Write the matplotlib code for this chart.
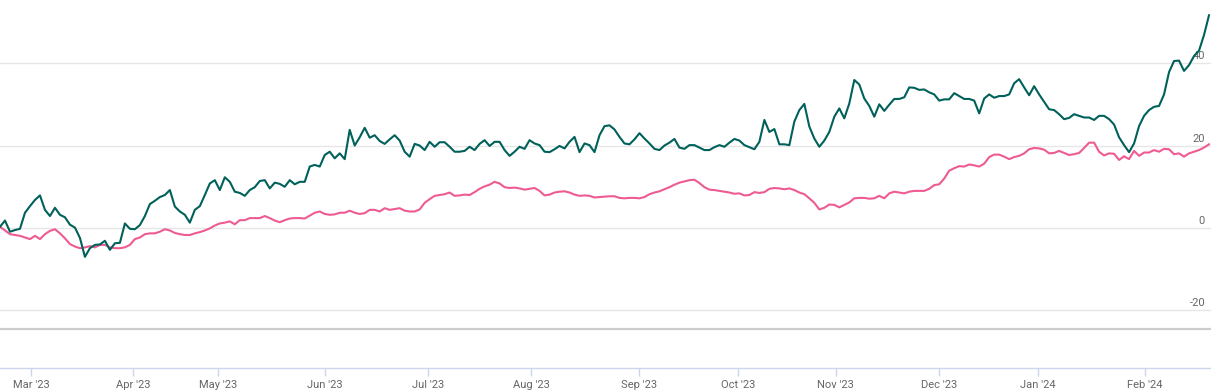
import numpy as np
import matplotlib.pyplot as plt

# cumulative performance, % (one value per trading day)
series_a = [
    0.3, 1.8, -0.9, -0.5, -0.2, 3.7, 5.3, 6.8, 7.9, 4.4,
    2.9, 4.9, 3.2, 2.6, 0.8, 0.1, -2.4, -7.0, -4.9, -4.1,
    -4.0, -3.1, -5.3, -3.7, -3.6, 1.1, -0.2, -0.3, 0.7, 2.9,
    5.8, 6.6, 7.5, 8.0, 9.2, 5.2, 4.0, 3.2, 1.3, 4.4,
    5.3, 8.0, 10.8, 11.6, 9.2, 12.3, 11.2, 8.8, 8.5, 7.8,
    9.2, 9.9, 11.4, 11.6, 9.6, 11.0, 10.7, 10.0, 11.6, 10.6,
    11.2, 11.2, 14.9, 15.3, 14.9, 17.7, 18.5, 16.9, 18.1, 16.7,
    23.8, 20.0, 22.0, 24.3, 21.9, 22.5, 21.1, 20.4, 21.5, 22.5,
    21.2, 18.5, 17.3, 20.4, 20.0, 18.9, 20.9, 19.7, 20.8, 20.8,
    19.7, 18.5, 18.5, 18.7, 19.7, 18.9, 20.4, 21.3, 19.9, 20.9,
    20.9, 18.9, 17.5, 18.5, 19.7, 19.2, 21.3, 20.5, 20.1, 18.5,
    18.4, 19.1, 19.9, 19.3, 20.9, 22.1, 18.4, 20.5, 20.1, 18.4,
    22.5, 24.7, 24.9, 23.9, 22.1, 20.5, 20.3, 21.5, 23.0, 21.7,
    20.5, 19.2, 18.9, 20.0, 20.7, 21.6, 19.5, 19.2, 20.1, 20.1,
    19.5, 18.9, 18.9, 19.6, 20.1, 19.7, 20.7, 21.6, 21.2, 20.1,
    19.6, 19.1, 20.9, 26.2, 23.3, 24.0, 20.3, 20.3, 20.1, 25.8,
    28.6, 30.1, 24.6, 21.7, 19.7, 21.2, 23.3, 27.0, 29.0, 26.6,
    30.2, 35.9, 34.8, 31.4, 29.6, 27.0, 30.0, 28.4, 29.9, 31.3,
    31.3, 31.7, 34.1, 34.0, 33.5, 33.6, 32.9, 32.4, 30.9, 31.2,
    31.2, 32.7, 32.0, 31.3, 31.3, 30.9, 27.8, 31.4, 32.4, 31.6,
    32.0, 32.0, 32.4, 35.1, 36.1, 34.1, 32.2, 34.4, 32.4, 30.6,
    28.8, 28.6, 27.6, 26.4, 26.7, 27.6, 27.2, 26.8, 26.8, 26.2,
    27.2, 27.2, 26.4, 25.1, 22.0, 20.1, 18.4, 20.5, 24.7, 27.2,
    28.6, 29.4, 29.6, 32.4, 37.8, 40.5, 40.6, 38.1, 39.5, 41.7,
    43.0, 46.8, 51.6,
]

series_b = [
    0.3, -0.6, -1.5, -1.7, -1.9, -2.3, -2.7, -1.9, -2.7, -1.5,
    -0.7, -0.3, -1.3, -2.5, -3.9, -4.5, -4.9, -4.7, -4.4, -4.7,
    -4.1, -4.1, -4.7, -4.9, -4.9, -4.7, -4.1, -2.7, -2.3, -1.5,
    -1.3, -1.3, -0.9, -0.3, -0.6, -1.2, -1.5, -1.7, -1.7, -1.3,
    -1.0, -0.6, -0.1, 0.6, 1.1, 1.3, 1.6, 0.9, 1.9, 1.9,
    2.4, 2.4, 2.4, 2.9, 2.4, 1.8, 1.4, 1.9, 2.3, 2.4,
    2.4, 2.3, 3.0, 3.7, 4.0, 3.4, 3.2, 3.3, 3.7, 3.7,
    4.2, 3.7, 3.4, 3.6, 4.4, 4.4, 4.0, 4.8, 4.4, 4.6,
    4.8, 4.2, 4.0, 4.0, 4.5, 6.1, 7.0, 7.8, 8.0, 8.2,
    8.6, 7.8, 7.9, 8.1, 8.0, 8.7, 9.5, 10.1, 10.5, 11.2,
    10.8, 9.9, 9.7, 9.8, 9.6, 9.3, 9.5, 9.7, 9.0, 7.9,
    8.1, 8.6, 8.8, 8.9, 8.6, 8.1, 7.8, 7.9, 7.8, 7.4,
    7.5, 7.6, 7.7, 7.7, 7.3, 7.2, 7.3, 7.3, 7.2, 7.5,
    8.2, 8.6, 8.9, 9.4, 9.9, 10.5, 11.0, 11.3, 11.6, 11.7,
    10.9, 9.9, 9.3, 9.2, 9.0, 8.8, 8.6, 8.3, 8.4, 7.9,
    8.0, 8.7, 8.5, 8.7, 9.5, 9.7, 9.6, 9.4, 9.6, 9.2,
    8.6, 8.2, 7.2, 6.1, 4.5, 4.9, 5.7, 5.6, 5.0, 5.6,
    6.2, 7.2, 7.3, 7.3, 7.1, 7.2, 7.8, 7.2, 8.4, 8.8,
    8.6, 8.4, 8.8, 9.0, 9.0, 9.0, 9.5, 10.4, 10.6, 12.0,
    13.9, 14.5, 15.0, 14.9, 15.4, 15.2, 14.9, 15.6, 17.2, 17.8,
    17.8, 17.3, 16.7, 17.2, 17.5, 18.1, 19.1, 19.4, 19.3, 19.0,
    18.1, 18.2, 18.7, 18.2, 17.7, 17.9, 18.2, 19.4, 20.7, 20.7,
    18.5, 17.6, 18.1, 18.0, 16.5, 17.4, 16.7, 18.7, 17.5, 18.3,
    18.3, 18.9, 18.5, 19.2, 19.1, 17.9, 18.1, 17.3, 18.1, 18.5,
    18.9, 19.5, 20.3,
]

month_labels = ["Mar '23", "Apr '23", "May '23", "Jun '23", "Jul '23", "Aug '23",
                "Sep '23", "Oct '23", "Nov '23", "Dec '23", "Jan '24", "Feb '24"]
# trading-day index where each month starts
month_pos = [6.3, 26.7, 43.7, 65.1, 85.7, 106.3, 127.9, 147.7, 167.3, 187.9, 207.7, 229.1]

y_ticks = [-20, 0, 20, 40]

plt.rcParams['font.family'] = ['Roboto', 'DejaVu Sans']

W, H = 1211, 391
fig = plt.figure(figsize=(W / 100, H / 100), dpi=100)

x = np.arange(len(series_a))
x_max = (len(series_a) - 1) * W / 1209

# main plot area
ax = fig.add_axes([0, (H - 329) / H, 1, 329 / H])
ax.plot(x, series_b, color='#ee5b93', linewidth=1.5, zorder=3)
ax.plot(x, series_a, color='#00615b', linewidth=1.5, zorder=4)
ax.set_xlim(0, x_max)
ax.set_ylim(-24.5, 55.3)
for v in y_ticks:
    ax.axhline(v, color='#e6e6e6', linewidth=1, zorder=1)
    ax.annotate(str(v), xy=(1, v), xycoords=('axes fraction', 'data'),
                xytext=(-6, 2), textcoords='offset pixels',
                ha='right', va='bottom', fontsize=8, color='#666666')
ax.set_xticks([])
ax.set_yticks([])
for side in ['top', 'left', 'right']:
    ax.spines[side].set_visible(False)
ax.spines['bottom'].set_color('#cccccc')
ax.spines['bottom'].set_linewidth(1.6)
ax.patch.set_alpha(0)

# date axis below
ax2 = fig.add_axes([0, (H - 368) / H, 1, 10 / H])
ax2.set_xlim(0, x_max)
ax2.set_xticks(month_pos)
ax2.set_xticklabels(month_labels)
ax2.set_yticks([])
for side in ['top', 'left', 'right']:
    ax2.spines[side].set_visible(False)
ax2.spines['bottom'].set_color('#ccd6eb')
ax2.spines['bottom'].set_linewidth(1)
ax2.tick_params(axis='x', length=6, width=1, color='#ccd6eb',
                labelsize=8, labelcolor='#666666', pad=3)
ax2.patch.set_alpha(0)

fig.savefig('out.png', dpi=100)
